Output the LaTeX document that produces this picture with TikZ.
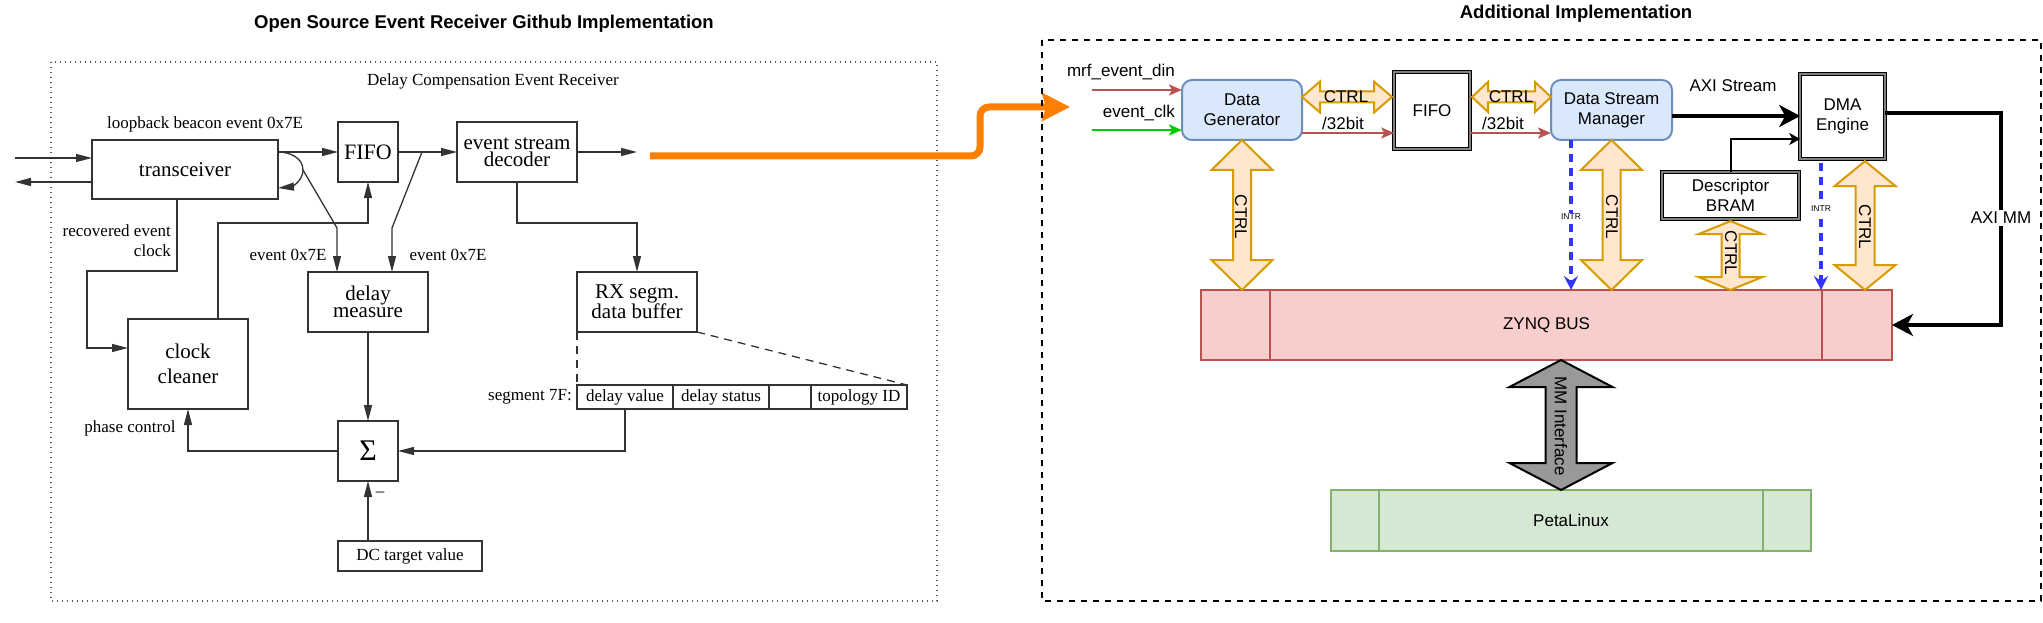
\documentclass[tikz,border=0pt]{standalone}
\usepackage{fontspec}
\setmainfont{Liberation Serif}
\newfontfamily\sansf{Liberation Sans}
\usetikzlibrary{arrows.meta,calc}
\definecolor{redc}{HTML}{B85450}
\definecolor{redfill}{HTML}{F8CECC}
\definecolor{bluefill}{HTML}{DAE8FC}
\definecolor{bluedraw}{HTML}{6C8EBF}
\definecolor{ctrlfill}{HTML}{FFE6CC}
\definecolor{ctrldraw}{HTML}{D79B00}
\definecolor{grf}{HTML}{D5E8D4}
\definecolor{grd}{HTML}{82B366}
\definecolor{orangec}{HTML}{FF8000}
\definecolor{intrc}{HTML}{3333FF}
\definecolor{clkc}{HTML}{00CC00}
\definecolor{lgray}{HTML}{333333}
\definecolor{mmfill}{HTML}{999999}

% vertical double block arrow: style, top point, bottom point, head length, half head width, half shaft width
\newcommand{\vblock}[6]{%
  \draw[#1] let \p1=#2, \p2=#3 in
   (\x1,\y1) -- (\x1+#5pt,\y1-#4pt) -- (\x1+#6pt,\y1-#4pt) -- (\x1+#6pt,\y2+#4pt)
   -- (\x1+#5pt,\y2+#4pt) -- (\x1,\y2) -- (\x1-#5pt,\y2+#4pt) -- (\x1-#6pt,\y2+#4pt)
   -- (\x1-#6pt,\y1-#4pt) -- (\x1-#5pt,\y1-#4pt) -- cycle;}
% horizontal double block arrow: style, left point, right point, head length, half head width, half shaft width
\newcommand{\hblock}[6]{%
  \draw[#1] let \p1=#2, \p2=#3 in
   (\x1,\y1) -- (\x1+#4pt,\y1+#5pt) -- (\x1+#4pt,\y1+#6pt) -- (\x2-#4pt,\y1+#6pt)
   -- (\x2-#4pt,\y1+#5pt) -- (\x2,\y1) -- (\x2-#4pt,\y1-#5pt) -- (\x2-#4pt,\y1-#6pt)
   -- (\x1+#4pt,\y1-#6pt) -- (\x1+#4pt,\y1-#5pt) -- cycle;}

\begin{document}
\begin{tikzpicture}[x=1pt,y=-1pt,
  oldbox/.style={draw=lgray, line width=1.3pt, inner sep=0pt, outer sep=0pt, align=center,
                 font=\fontsize{21}{17.5}\selectfont},
  oldsmall/.style={font=\fontsize{17}{19}\selectfont},
  oldlab/.style={font=\fontsize{17}{20}\selectfont, inner sep=0pt},
  oldline/.style={draw=lgray, line width=1.3pt},
  oldarr/.style={oldline, -{Triangle[length=16pt,width=8pt]}},
  olddash/.style={oldline, dash pattern=on 8pt off 6pt},
  rtext/.style={font=\sansf\fontsize{17}{20}\selectfont, inner sep=0pt, align=center},
  rbox/.style={draw, line width=2pt, inner sep=0pt, outer sep=0pt, align=center,
               font=\sansf\fontsize{17}{20}\selectfont},
  dbl/.style={draw=black, line width=1.2pt, double=gray, double distance=2pt},
  redarr/.style={draw=redc, line width=2pt, -{Stealth[length=13pt,width=11pt,inset=3pt]}},
  clkarr/.style={draw=clkc, line width=2pt, -{Stealth[length=13pt,width=11pt,inset=3pt]}},
  axiarr/.style={draw=black, line width=4pt, -{Stealth[length=21pt,width=22pt,inset=6pt]}},
  descarr/.style={draw=black, line width=2pt, -{Stealth[length=11pt,width=12pt,inset=3pt]}},
  intrarr/.style={draw=intrc, line width=3.4pt, dash pattern=on 8pt off 6pt,
                  -{Stealth[length=14pt,width=14pt,inset=5pt]}},
  ctrlst/.style={fill=ctrlfill, draw=ctrldraw, line width=2pt, line join=miter},
  mmst/.style={fill=mmfill, draw=black, line width=2pt, line join=miter},
  intrlab/.style={font=\sansf\fontsize{8.5}{10}\selectfont, fill=white, inner sep=1pt},
  ttl/.style={font=\sansf\bfseries\fontsize{18.5}{22}\selectfont, inner sep=0pt}
]
\useasboundingbox (0,0) rectangle (2043,623);

% ---------------- titles ----------------
\node[ttl] (t1) at (484,24) {Open Source Event Receiver Github Implementation};
\node[ttl] (t2) at (1576,14) {Additional Implementation};

% ---------------- left frame ----------------
\draw[gray!70!black, line width=1.2pt, dash pattern=on 1.2pt off 3.8pt] (51,62) rectangle (937,601);
\node[oldlab] (ltitle) at (493,81) {Delay Compensation Event Receiver};

% ---------------- left boxes ----------------
\node[oldbox, minimum width=186pt, minimum height=59pt] (trx) at (185,169.5) {transceiver};
\node[oldbox, minimum width=60pt, minimum height=60pt, font=\fontsize{22}{20}\selectfont] (fifo) at (368,152) {FIFO};
\node[oldbox, minimum width=120pt, minimum height=60pt] (dec) at (517,152) {event stream\\decoder};
\node[oldbox, minimum width=120pt, minimum height=60pt] (dm) at (368,302) {delay\\measure};
\node[oldbox, minimum width=120pt, minimum height=60pt] (rx) at (637,302) {RX segm.\\data buffer};
\node[oldbox, minimum width=120pt, minimum height=90pt, font=\fontsize{21}{25}\selectfont] (cc) at (188,364) {clock\\cleaner};
\node[oldbox, minimum width=60pt, minimum height=60pt, font=\fontsize{30}{30}\selectfont] (sig) at (368,451) {Σ};
\node[oldbox, oldsmall, minimum width=144pt, minimum height=30pt] (dc) at (410,556) {DC target value};
\node[oldbox, oldsmall, minimum width=96pt, minimum height=24pt] (sa) at (625,397) {delay value};
\node[oldbox, oldsmall, minimum width=96pt, minimum height=24pt] (sb) at (721,397) {delay status};
\node[oldbox, oldsmall, minimum width=42pt, minimum height=24pt] (sc) at (790,397) {};
\node[oldbox, oldsmall, minimum width=96pt, minimum height=24pt] (sd) at (859,397) {topology ID};

% ---------------- left labels ----------------
\node[oldlab] (l1) at (205,124) {loopback beacon event 0x7E};
\node[oldlab, align=right, anchor=east] (l2) at (171,241) {recovered event\\clock};
\node[oldlab] (l3) at (288,255) {event 0x7E};
\node[oldlab] (l4) at (448,255) {event 0x7E};
\node[oldlab] (l5) at (130,428) {phase control};
\node[oldlab, anchor=east] (l6) at (572,397) {segment 7F:};
\node[oldlab] (l7) at (380,494) {–};

% ---------------- left connectors ----------------
\coordinate (inL) at (15,158);
\coordinate (outL) at (15,182);
\draw[oldarr] (inL) -- (inL -| trx.west);
\draw[oldarr] (outL -| trx.west) -- (outL);
\coordinate (tx1) at (trx.east |- fifo.west);
\draw[oldarr] (tx1) -- (fifo.west);
\coordinate (lp) at (303,170);
\draw[oldline] (tx1) to[out=0,in=90] (lp);
\draw[oldarr] (lp) to[out=-90,in=5] ([yshift=-18.5pt]trx.east);
\coordinate (k1) at (337,228);
\draw[oldarr] (lp) -- (k1) -- (k1 |- dm.north);
\draw[oldarr] (fifo.east) -- (dec.west);
\coordinate (k2) at (422,152);
\coordinate (k3) at (392,228);
\draw[oldarr] (k2) -- (k3) -- (k3 |- dm.north);
\coordinate (decout) at (637,152);
\draw[oldarr] (dec.east) -- (decout);
\draw[oldarr] (dec.south) -- ++(0,41) -| (rx.north);
\draw[oldarr] ([xshift=-8pt]trx.south) -- ++(0,72) -- ++(-90,0) |- ([yshift=16pt]cc.west);
\draw[oldarr] ([xshift=30pt]cc.north) -- ++(0,-96) -| (fifo.south);
\draw[oldarr] (dm.south) -- (sig.north);
\draw[oldarr] (sa.south) |- (sig.east);
\draw[oldarr] (sig.west) -| (cc.south);
\coordinate (dcup) at (sig.south |- dc.north);
\draw[oldarr] (dcup) -- (sig.south);
\draw[olddash] (rx.south west) -- (sa.north west);
\draw[olddash] (rx.south east) -- (sd.north east);

% ---------------- orange link ----------------
\coordinate (orS) at (650,156);
\coordinate (orE) at (1070,107);
\draw[orangec, line width=7pt, rounded corners=9pt, -{Stealth[length=28pt,width=28pt,inset=4pt]}]
  (orS) -- (980,156) -- (980,107) -- (orE);

% ---------------- right frame ----------------
\draw[black, line width=2pt, dash pattern=on 6pt off 6pt] (1042,40) rectangle (2041,601);

% ---------------- right boxes ----------------
\node[rbox, rounded corners=10pt, fill=bluefill, draw=bluedraw, minimum width=120pt, minimum height=60pt] (dg) at (1242,110) {Data\\Generator};
\node[rbox, dbl, minimum width=75.6pt, minimum height=76.6pt] (fifo2) at (1432,110.5) {FIFO};
\node[rbox, rounded corners=10pt, fill=bluefill, draw=bluedraw, minimum width=121pt, minimum height=60pt] (dsm) at (1611.5,110) {Data Stream\\Manager};
\node[rbox, dbl, minimum width=84.6pt, minimum height=84.6pt] (dma) at (1842.5,116.5) {DMA\\Engine};
\node[rbox, dbl, minimum width=136.6pt, minimum height=46.6pt] (bram) at (1730.5,195.5) {Descriptor\\BRAM};
\node[rbox, fill=redfill, draw=redc, minimum width=691pt, minimum height=70pt] (zynq) at (1546.5,325) {ZYNQ BUS};
\draw[redc, line width=2pt] ([xshift=69pt]zynq.north west) -- ([xshift=69pt]zynq.south west);
\draw[redc, line width=2pt] ([xshift=-70pt]zynq.north east) -- ([xshift=-70pt]zynq.south east);
\node[rbox, fill=grf, draw=grd, minimum width=480pt, minimum height=61pt] (peta) at (1571,520.5) {PetaLinux};
\draw[grd, line width=2pt] ([xshift=48pt]peta.north west) -- ([xshift=48pt]peta.south west);
\draw[grd, line width=2pt] ([xshift=-48pt]peta.north east) -- ([xshift=-48pt]peta.south east);

% ---------------- right inputs ----------------
\coordinate (mrfin) at (1092,90);
\coordinate (clkin) at (1092,130);
\draw[redarr] (mrfin) -- (mrfin -| dg.west);
\draw[clkarr] (clkin) -- (clkin -| dg.west);
\node[rtext, anchor=east] (lmrf) at (1175,72) {mrf\_event\_din};
\node[rtext, anchor=east] (lclk) at (1175,113) {event\_clk};

% ---------------- data path ----------------
\coordinate (d1) at ([yshift=-23pt]dg.east);
\draw[redarr] (d1) -- (d1 -| fifo2.west);
\coordinate (d2) at ([yshift=-22.5pt]fifo2.east);
\draw[redarr] (d2) -- (d2 -| dsm.west);
\coordinate (h1l) at ([yshift=13pt]dg.east);
\coordinate (h1r) at ([xshift=-2.2pt]fifo2.west);
\hblock{ctrlst}{(h1l)}{(h1r)}{18}{15.5}{5.5}
\coordinate (h2l) at ([xshift=2.2pt,yshift=13.5pt]fifo2.east);
\coordinate (h2r) at (dsm.west);
\hblock{ctrlst}{(h2l)}{(h2r)}{16}{15}{5.5}
\node[rtext] (c1) at (1346,97) {CTRL};
\node[rtext] (b1) at (1343,123) {/32bit};
\node[rtext] (c2) at (1511,97) {CTRL};
\node[rtext] (b2) at (1503,123) {/32bit};

\coordinate (s1) at ([yshift=-6pt]dsm.east);
\draw[axiarr] (s1) -- (s1 -| dma.west);
\node[rtext] (laxis) at (1733,86) {AXI Stream};

\coordinate (m1) at ([yshift=3.5pt]dma.east);
\coordinate (mk) at (2001,113);
\draw[axiarr, line join=miter] (m1) -- (mk) |- (zynq.east);
\node[rtext, fill=white, inner sep=2pt] (laxim) at (2001,218) {AXI MM};

\coordinate (q1) at ([yshift=-22.5pt]dma.west);
\draw[descarr] (bram.north) |- (q1);

% ---------------- interrupts ----------------
\coordinate (i1) at ([xshift=-40.5pt]dsm.south);
\draw[intrarr] (i1) -- (i1 |- zynq.north);
\node[intrlab] (li1) at (1571,217) {INTR};
\coordinate (i2) at ([xshift=-21.5pt,yshift=-4pt]dma.south);
\draw[intrarr] (i2) -- (i2 |- zynq.north);
\node[intrlab] (li2) at (1821,209) {INTR};

% ---------------- vertical CTRL arrows ----------------
\coordinate (v1b) at (dg.south |- zynq.north);
\vblock{ctrlst}{(dg.south)}{(v1b)}{30}{30.5}{9}
\node[rtext, rotate=-90] (vc1) at (1241,217) {CTRL};
\coordinate (v2b) at (dsm.south |- zynq.north);
\vblock{ctrlst}{(dsm.south)}{(v2b)}{30}{30.5}{9}
\node[rtext, rotate=-90] (vc2) at (1612,217) {CTRL};
\coordinate (v3t) at ([yshift=-2.3pt]bram.south);
\coordinate (v3b) at (bram.south |- zynq.north);
\vblock{ctrlst}{(v3t)}{(v3b)}{13}{32}{9}
\node[rtext, rotate=-90] (vc3) at (1731,253) {CTRL};
\coordinate (v4t) at ([xshift=22.5pt,yshift=-2.3pt]dma.south);
\coordinate (v4b) at (v4t |- zynq.north);
\vblock{ctrlst}{(v4t)}{(v4b)}{25}{30.5}{9.5}
\node[rtext, rotate=-90] (vc4) at (1865,227) {CTRL};

% ---------------- MM interface ----------------
\coordinate (mmb) at ([xshift=-10pt]peta.north);
\coordinate (mmt) at (mmb |- zynq.south);
\vblock{mmst}{(mmt)}{(mmb)}{27}{51.5}{15.5}
\node[rtext, rotate=-90] (lmm) at (1561,426) {MM Interface};
\end{tikzpicture}
\end{document}
